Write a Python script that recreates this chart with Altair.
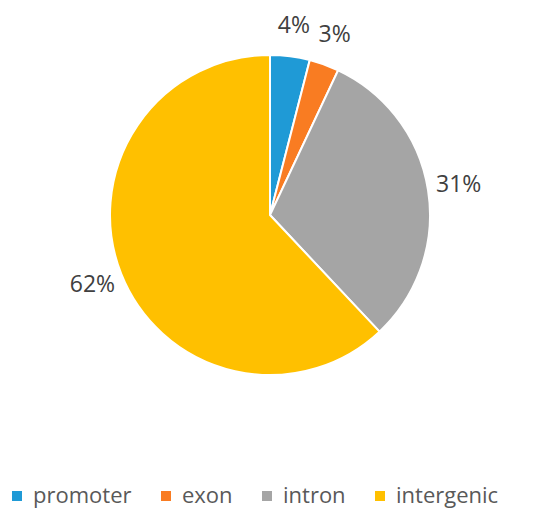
import altair as alt
import pandas as pd

categories = ["promoter", "exon", "intron", "intergenic"]
values = [4, 3, 31, 62]
labels = ["4%", "3%", "31%", "62%"]
colors = ["#1f9ad6", "#f97c22", "#a5a5a5", "#ffc000"]

df = pd.DataFrame({"cat": categories, "val": values, "lab": labels, "order": list(range(len(categories)))})

FONT = "Open Sans"

base = alt.Chart(df).encode(
    theta=alt.Theta("val:Q", stack=True),
    order=alt.Order("order:Q"),
    x=alt.value(262),
    y=alt.value(207),
)

pie = base.mark_arc(outerRadius=160, stroke="white", strokeWidth=2).encode(
    color=alt.Color(
        "cat:N",
        scale=alt.Scale(domain=categories, range=colors),
        sort=categories,
        legend=alt.Legend(
            title=None,
            orient="none",
            legendX=-2,
            legendY=477,
            direction="horizontal",
            columns=4,
            symbolType="square",
            symbolSize=100,
            symbolStrokeWidth=0,
            labelFontSize=22,
            labelFont=FONT,
            labelColor="#595959",
            labelOffset=5,
            columnPadding=23,
            labelLimit=250,
        ),
    )
)

text = base.mark_text(radius=191, fontSize=23, font=FONT, color="#404040").encode(
    text="lab:N"
)

chart = (pie + text).properties(
    width=534, height=500, autosize=alt.AutoSizeParams(type="none"), padding=0,
    background="white",
).configure_view(stroke=None)

chart.save("out.html", embed_options={"renderer": "svg", "actions": False})
